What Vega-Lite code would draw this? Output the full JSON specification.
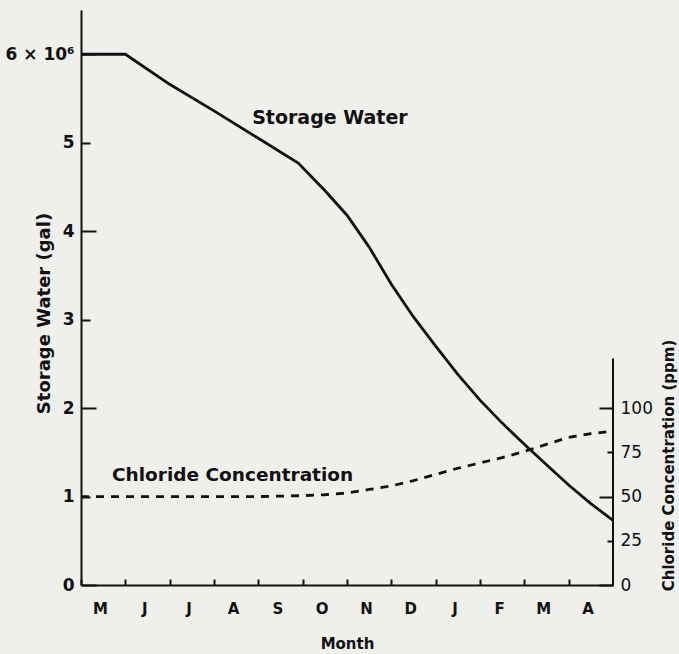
{
  "$schema": "https://vega.github.io/schema/vega-lite/v6.json",
  "width": 532,
  "height": 575,
  "autosize": {"type": "none"},
  "padding": {"left": 81, "top": 10, "right": 66, "bottom": 69},
  "background": "#efefec",
  "datasets": {
    "storage": [
      {"month": 0, "gal": 6.0},
      {"month": 1, "gal": 6.0},
      {"month": 2, "gal": 5.66},
      {"month": 3, "gal": 5.36},
      {"month": 4, "gal": 5.05},
      {"month": 4.9, "gal": 4.77},
      {"month": 5.5, "gal": 4.46},
      {"month": 6.0, "gal": 4.18},
      {"month": 6.5, "gal": 3.82},
      {"month": 7.0, "gal": 3.40},
      {"month": 7.5, "gal": 3.03},
      {"month": 8.0, "gal": 2.70},
      {"month": 8.5, "gal": 2.38},
      {"month": 9.0, "gal": 2.09},
      {"month": 9.5, "gal": 1.83},
      {"month": 10.0, "gal": 1.59},
      {"month": 10.5, "gal": 1.36},
      {"month": 11.0, "gal": 1.13},
      {"month": 11.5, "gal": 0.92},
      {"month": 12.0, "gal": 0.73}
    ],
    "chloride": [
      {"month": 0, "ppm": 50},
      {"month": 1, "ppm": 50},
      {"month": 2, "ppm": 50},
      {"month": 3, "ppm": 50},
      {"month": 4, "ppm": 50},
      {"month": 5, "ppm": 50.5},
      {"month": 5.5, "ppm": 51},
      {"month": 6, "ppm": 52},
      {"month": 6.5, "ppm": 54},
      {"month": 7, "ppm": 56},
      {"month": 7.5, "ppm": 59},
      {"month": 8, "ppm": 62.5},
      {"month": 8.5, "ppm": 66},
      {"month": 9, "ppm": 69},
      {"month": 9.5, "ppm": 72},
      {"month": 10, "ppm": 75.5},
      {"month": 10.5, "ppm": 79.5},
      {"month": 11, "ppm": 83.5},
      {"month": 11.5, "ppm": 85.5},
      {"month": 12, "ppm": 87}
    ],
    "notes": [
      {"label": "Storage Water", "month": 3.86, "gal": 5.28, "size": 19},
      {"label": "Chloride Concentration", "month": 0.7, "gal": 1.24, "size": 18.5}
    ],
    "raxis": [
      {"month": 12, "lo": 0, "hi": 128}
    ]
  },
  "layer": [
    {
      "layer": [
        {
          "data": {"name": "storage"},
          "mark": {"type": "line", "color": "#111", "strokeWidth": 2.8},
          "encoding": {
            "x": {
              "field": "month", "type": "quantitative",
              "scale": {"domain": [0, 12], "nice": false, "zero": false},
              "axis": {
                "title": "Month",
                "values": [0, 1, 2, 3, 4, 5, 6, 7, 8, 9, 10, 11],
                "labelExpr": "['M','J','J','A','S','O','N','D','J','F','M','A'][datum.value]",
                "labelOffset": 19,
                "labelFlush": false,
                "labelOverlap": false,
                "tickSize": -6,
                "labelPadding": 22,
                "labelFontSize": 15,
                "labelFontWeight": "bold",
                "titleFontSize": 15,
                "titleFontWeight": "bold",
                "titleY": 58,
                "titleBaseline": "middle"
              }
            },
            "y": {
              "field": "gal", "type": "quantitative",
              "scale": {"domain": [0, 6.5], "nice": false},
              "axis": {
                "title": "Storage Water (gal)",
                "values": [0, 1, 2, 3, 4, 5, 6],
                "labelExpr": "datum.value == 6 ? '6 × 10⁶' : format(datum.value, 'd')",
                "labelOverlap": false,
                "labelFlush": false,
                "tickSize": {"condition": {"test": "datum.value % 2 == 0", "value": -15}, "value": -9},
                "labelPadding": {"condition": {"test": "datum.value % 2 == 0", "value": 22}, "value": 16},
                "labelFontSize": 17,
                "labelFontWeight": "bold",
                "titleFontSize": 18,
                "titleFontWeight": "bold",
                "titleX": -37,
                "titleY": 303,
                "titleAngle": 270,
                "titleAlign": "center",
                "titleBaseline": "middle"
              }
            }
          }
        },
        {
          "data": {"name": "notes"},
          "mark": {"type": "text", "align": "left", "baseline": "middle", "font": "DejaVu Sans", "fontWeight": "bold", "color": "#111"},
          "encoding": {
            "x": {"field": "month", "type": "quantitative"},
            "y": {"field": "gal", "type": "quantitative"},
            "text": {"field": "label"},
            "size": {"field": "size", "type": "quantitative", "scale": null}
          }
        }
      ]
    },
    {
      "layer": [
        {
          "data": {"name": "chloride"},
          "mark": {"type": "line", "color": "#111", "strokeWidth": 2.8, "strokeDash": [8, 7]},
          "encoding": {
            "x": {"field": "month", "type": "quantitative"},
            "y": {
              "field": "ppm", "type": "quantitative",
              "scale": {"domain": [0, 325], "nice": false},
              "axis": {
                "orient": "right",
                "title": "Chloride Concentration (ppm)",
                "values": [0, 25, 50, 75, 100],
                "domain": false,
                "labelOverlap": false,
                "labelFlush": false,
                "tickSize": {"condition": {"test": "datum.value % 50 == 0", "value": -14}, "value": -6},
                "labelPadding": {"condition": {"test": "datum.value % 50 == 0", "value": 21}, "value": 13},
                "labelFontSize": 17,
                "titleFontSize": 15,
                "titleFontWeight": "bold",
                "titleX": 55,
                "titleY": 455,
                "titleAngle": 270,
                "titleAlign": "center",
                "titleBaseline": "middle"
              }
            }
          }
        },
        {
          "data": {"name": "raxis"},
          "mark": {"type": "rule", "color": "#111", "strokeWidth": 2},
          "encoding": {
            "x": {"field": "month", "type": "quantitative"},
            "y": {"field": "lo", "type": "quantitative"},
            "y2": {"field": "hi"}
          }
        }
      ]
    }
  ],
  "resolve": {"scale": {"y": "independent"}, "axis": {"y": "independent"}},
  "config": {
    "view": {"stroke": null},
    "axis": {
      "grid": false,
      "domainColor": "#111",
      "domainWidth": 2,
      "tickColor": "#111",
      "tickWidth": 2,
      "labelColor": "#111",
      "titleColor": "#111",
      "labelFont": "DejaVu Sans",
      "titleFont": "DejaVu Sans"
    }
  }
}
